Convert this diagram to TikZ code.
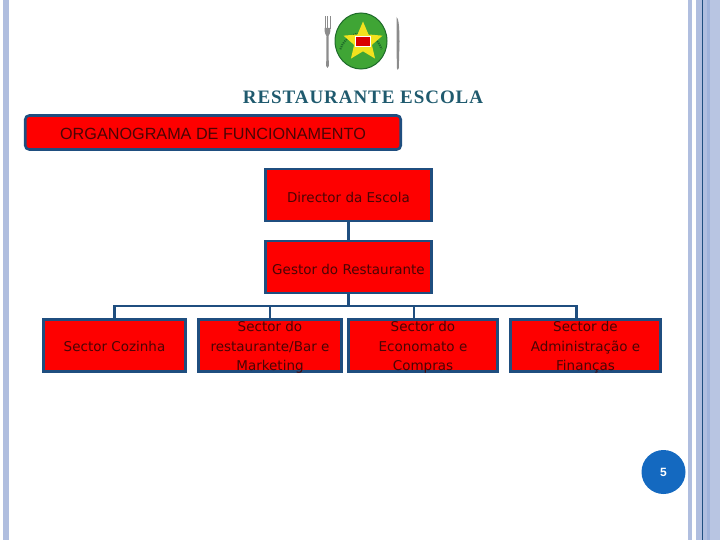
\documentclass[tikz,border=0pt]{standalone}
\usepackage{fontspec}
\setmainfont{DejaVu Sans}
\newfontfamily\titlefont[LetterSpace=5]{Liberation Serif}
\newfontfamily\headfont{Liberation Sans}
\definecolor{navy}{HTML}{1F4E7F}
\definecolor{strip}{HTML}{B0BEDF}
\definecolor{stripdark}{HTML}{9FB2DA}
\definecolor{redfill}{HTML}{FE0000}
\definecolor{ink}{HTML}{4A0505}
\definecolor{teal}{HTML}{1F5A6E}
\definecolor{badge}{HTML}{1469C0}
\definecolor{leaf}{HTML}{3FA535}
\definecolor{leafdark}{HTML}{1E6B2A}
\definecolor{sun}{HTML}{F2E21E}
\definecolor{steel}{HTML}{8C8C8C}
\usetikzlibrary{positioning, shapes.geometric}

\begin{document}
\begin{tikzpicture}[x=1pt,y=-1pt,
    f/.style={draw=navy,line width=2.6pt,fill=redfill,inner sep=0pt},
    w/.style={text=ink,align=center,inner sep=0pt,font=\fontsize{13.5}{19.6}\selectfont},
    sec/.style={f,minimum width=142pt,minimum height=52.5pt},
    link/.style={draw=navy,line width=2.2pt}]
    \useasboundingbox (0,0) rectangle (720,540);
    % side strips
    \fill[strip] (3,0) rectangle (9,540);
    \fill[strip] (688,0) rectangle (692,540);
    \fill[strip] (696,0) rectangle (707,540);
    \fill[stripdark] (707,0) rectangle (710,540);
    \fill[strip!90] (710,0) rectangle (720,540);
    \draw[navy,line width=.8pt] (702.5,0) -- (702.5,540);
    % logo
    \fill[steel] (324.5,16) rectangle (325.5,29);
    \fill[steel] (327,16) rectangle (328,29);
    \fill[steel] (329.5,16) rectangle (330.5,29);
    \fill[steel] (324.5,28) .. controls (324.5,34) and (326,35) .. (326.5,36) -- (326.2,66) .. controls (326.5,68.5) and (328.5,68.5) .. (328.8,66) -- (328.5,36) .. controls (329,35) and (330.5,34) .. (330.5,28) -- cycle;
    \fill[steel] (396.5,17) .. controls (398.5,18) and (399.5,26) .. (399.5,42) -- (398.8,68) .. controls (398.5,70.5) and (397,70.5) .. (396.8,68) -- cycle;
    \node[ellipse,draw=leafdark,line width=1pt,fill=leaf,minimum width=52pt,minimum height=56pt,inner sep=0pt] (seal) at (361,41) {};
    \draw[leafdark,line width=2pt,dash pattern=on 1.2pt off 1pt] (361,41) ++(-160:22pt and 24pt) arc[start angle=-160,end angle=-20,x radius=22pt,y radius=-24pt];
    \node[star,star points=5,star point ratio=2.2,fill=sun,minimum size=41pt,inner sep=0pt] (emblem) at (363,42) {};
    \node[fill=red!85!black,draw=white,line width=.6pt,minimum width=15pt,minimum height=10pt,inner sep=0pt] (crest) at (363,41.5) {};
    % titles
    \node[text=teal,font=\titlefont\bfseries\fontsize{19}{22}\selectfont] (title) at (363,97) {RESTAURANTE ESCOLA};
    \node[f,rounded corners=4pt,minimum width=375.5pt,minimum height=34pt] (org) at (213,132.5) {};
    \node[text=ink,font=\headfont\fontsize{16.2}{18}\selectfont] (orgtext) at (213,134) {ORGANOGRAMA DE FUNCIONAMENTO};
    % boxes
    \node[f,minimum width=166.5pt,minimum height=52pt,label={[w,yshift=-2pt]center:Director da Escola}] (dir) at (348.5,195) {};
    \node[f,minimum width=166.5pt,minimum height=52pt,label={[w,yshift=-2pt]center:Gestor do Restaurante}] (ges) at (348.5,267) {};
    \node[sec,label={[w,yshift=-1pt]center:Sector Cozinha}] (coz) at (114.5,345.5) {};
    \node[sec,minimum width=143.5pt,label={[w,yshift=-2pt]center:{Sector do\\restaurante/Bar e\\Marketing}}] (res) at (270,345.5) {};
    \node[sec,minimum width=149.5pt,label={[w,yshift=-2pt]center:{Sector do\\Economato e\\Compras}}] (eco) at (423,345.5) {};
    \node[sec,minimum width=150.5pt,label={[w,yshift=-2pt]center:{Sector de\\Administração e\\Finanças}}] (adm) at (585.5,345.5) {};
    % links
    \coordinate (bus) at (348.5,306);
    \draw[link] (dir) -- (ges);
    \draw[link] (ges.south) -- (bus);
    \draw[link] (bus) -| (coz.north);
    \draw[link] (bus) -| (res.north);
    \draw[link] (bus) -| ([xshift=-9pt]eco.north);
    \draw[link] (bus) -| ([xshift=-9pt]adm.north);
    % page number
    \node[circle,fill=badge,text=white,minimum size=44pt,inner sep=0pt,font=\headfont\bfseries\fontsize{12}{14}\selectfont] (page) at (663.5,472) {5};
  \end{tikzpicture}
\end{document}
